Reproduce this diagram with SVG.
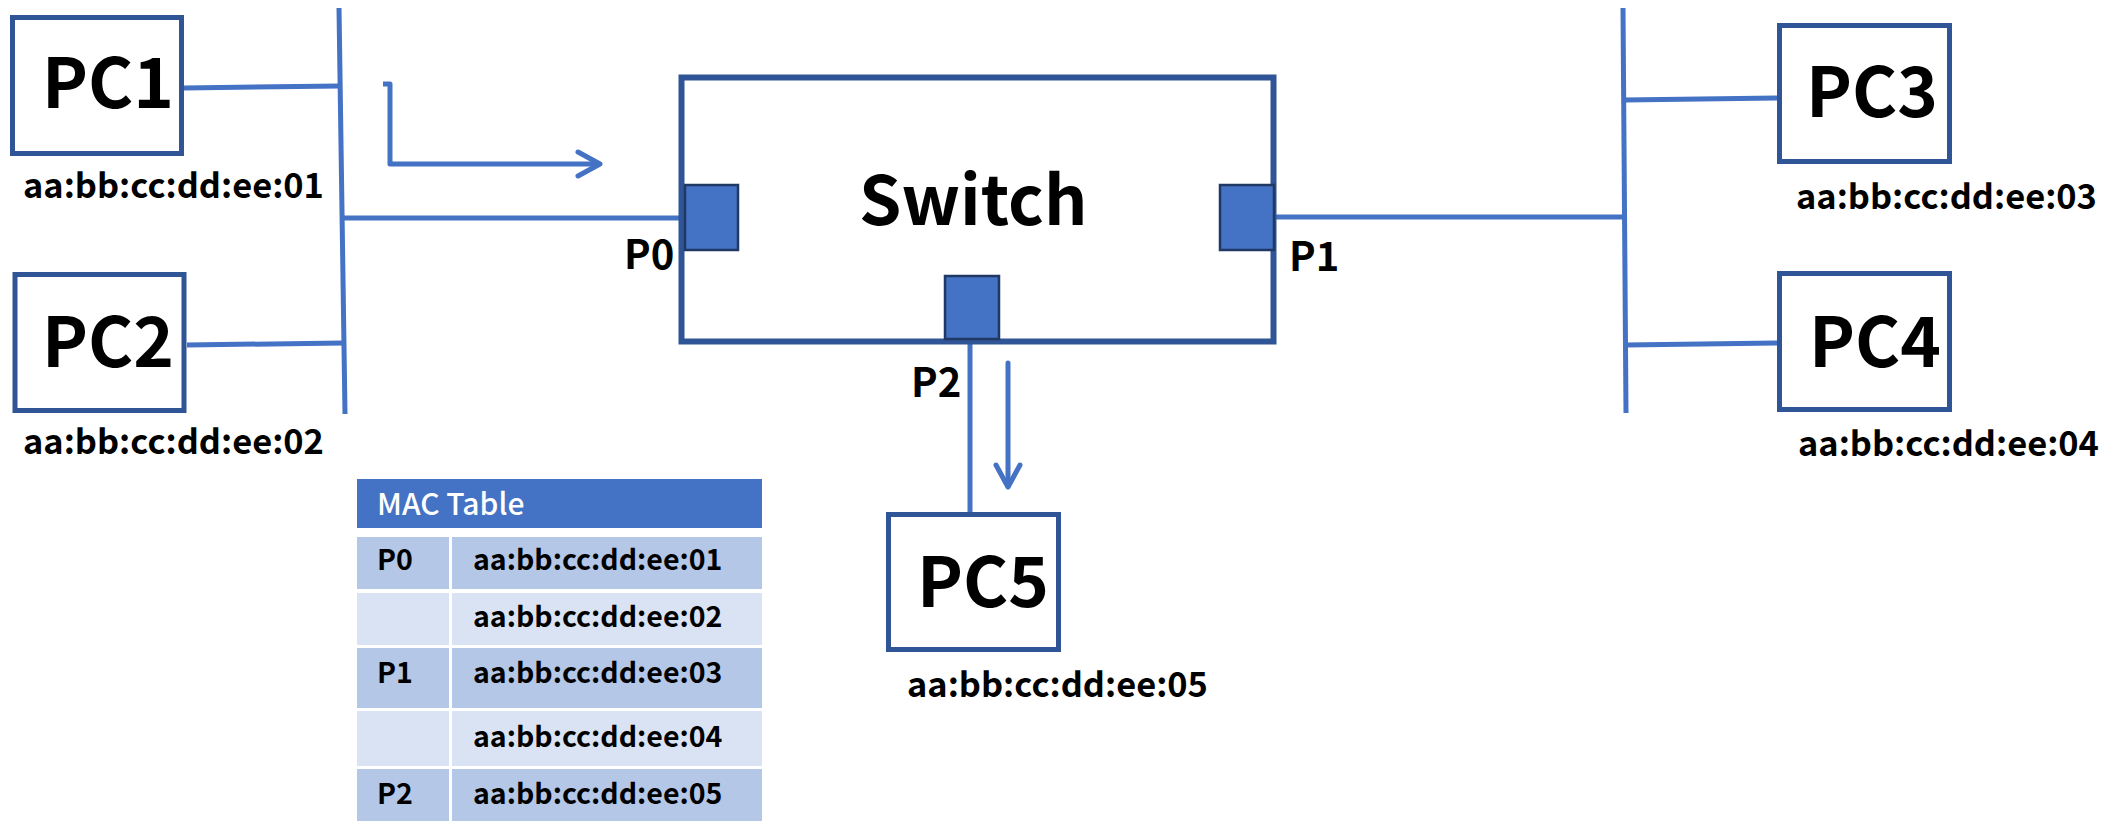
<svg xmlns="http://www.w3.org/2000/svg" width="2106" height="835" viewBox="0 0 2106 835">
<defs>
<style>
.box{fill:#fff;stroke:#2F5597;stroke-width:5}
.port{fill:#4472C4;stroke:#203864;stroke-width:2.5}
.wire{fill:none;stroke:#4472C4;stroke-width:5}
.flow{fill:none;stroke:#4472C4;stroke-width:5;stroke-linecap:round;stroke-linejoin:round}
text{font-family:"Noto Sans CJK JP","Noto Sans",sans-serif;font-weight:bold;fill:#000}
.big{font-size:69px}
.mac{font-size:34.4px}
.plab{font-size:40px}
.tt{font-size:28.5px}
.th{font-size:30px;fill:#fff;font-weight:500}
.dark{fill:#B4C7E7}
.light{fill:#DAE3F3}
</style>
</defs>
<g id="connectors">
<line class="wire" x1="339" y1="8" x2="345" y2="414"/>
<line class="wire" x1="184" y1="88" x2="340" y2="86"/>
<line class="wire" x1="187" y1="345" x2="343" y2="343"/>
<line class="wire" x1="343" y1="218" x2="686" y2="218"/>
<line class="wire" x1="1623" y1="8" x2="1626" y2="413"/>
<line class="wire" x1="1274" y1="217" x2="1625" y2="217"/>
<line class="wire" x1="1624" y1="100" x2="1777" y2="98"/>
<line class="wire" x1="1626" y1="345" x2="1777" y2="343"/>
<line class="wire" x1="970" y1="340" x2="970" y2="512"/>
<path class="flow" d="M383,84 H390 V164 H599" style="stroke-linecap:butt"/>
<path class="flow" d="M578,152 L600,164 L578,176"/>
<path class="flow" d="M1008,363 V486"/>
<path class="flow" d="M996,465 L1008,487 L1020,465"/>
</g>
<g id="switch">
<rect class="box" x="681.5" y="77.5" width="592" height="264" style="stroke-width:6"/>
<text x="859" y="225" style="font-size:68px">Switch</text>
</g>
<g id="port-p0">
<rect class="port" x="685" y="185" width="53" height="65"/>
<text class="plab" x="624" y="269">P0</text>
</g>
<g id="port-p1">
<rect class="port" x="1220" y="185" width="54" height="65"/>
<text class="plab" x="1289" y="271">P1</text>
</g>
<g id="port-p2">
<rect class="port" x="945" y="276" width="54" height="63"/>
<text class="plab" x="911" y="397">P2</text>
</g>
<g id="pc1">
<rect class="box" x="12.5" y="17.5" width="169" height="136"/>
<text class="big" x="42" y="108">PC1</text>
<text class="mac" x="23" y="198">aa:bb:cc:dd:ee:01</text>
</g>
<g id="pc2">
<rect class="box" x="15" y="274.5" width="169" height="136"/>
<text class="big" x="42" y="367">PC2</text>
<text class="mac" x="23" y="454">aa:bb:cc:dd:ee:02</text>
</g>
<g id="pc3">
<rect class="box" x="1779.5" y="25.5" width="170" height="136"/>
<text class="big" x="1806" y="117">PC3</text>
<text class="mac" x="1796" y="209">aa:bb:cc:dd:ee:03</text>
</g>
<g id="pc4">
<rect class="box" x="1779.5" y="273.5" width="170" height="136"/>
<text class="big" x="1809" y="367">PC4</text>
<text class="mac" x="1798" y="456">aa:bb:cc:dd:ee:04</text>
</g>
<g id="pc5">
<rect class="box" x="888.5" y="514.5" width="170" height="135"/>
<text class="big" x="917" y="607">PC5</text>
<text class="mac" x="907" y="697">aa:bb:cc:dd:ee:05</text>
</g>
<g id="mac-table">
<rect x="357" y="479" width="405" height="49" fill="#4472C4"/>
<text class="th" x="377" y="515">MAC Table</text>
<rect class="dark" x="357" y="537" width="92" height="52"/>
<rect class="dark" x="452" y="537" width="310" height="52"/>
<rect class="light" x="357" y="593" width="92" height="52"/>
<rect class="light" x="452" y="593" width="310" height="52"/>
<rect class="dark" x="357" y="648" width="92" height="60"/>
<rect class="dark" x="452" y="648" width="310" height="60"/>
<rect class="light" x="357" y="711" width="92" height="55"/>
<rect class="light" x="452" y="711" width="310" height="55"/>
<rect class="dark" x="357" y="769" width="92" height="52"/>
<rect class="dark" x="452" y="769" width="310" height="52"/>
<text class="tt" x="377" y="570">P0</text>
<text class="tt" x="473" y="570">aa:bb:cc:dd:ee:01</text>
<text class="tt" x="473" y="627">aa:bb:cc:dd:ee:02</text>
<text class="tt" x="377" y="683">P1</text>
<text class="tt" x="473" y="683">aa:bb:cc:dd:ee:03</text>
<text class="tt" x="473" y="747">aa:bb:cc:dd:ee:04</text>
<text class="tt" x="377" y="804">P2</text>
<text class="tt" x="473" y="804">aa:bb:cc:dd:ee:05</text>
</g>
</svg>
